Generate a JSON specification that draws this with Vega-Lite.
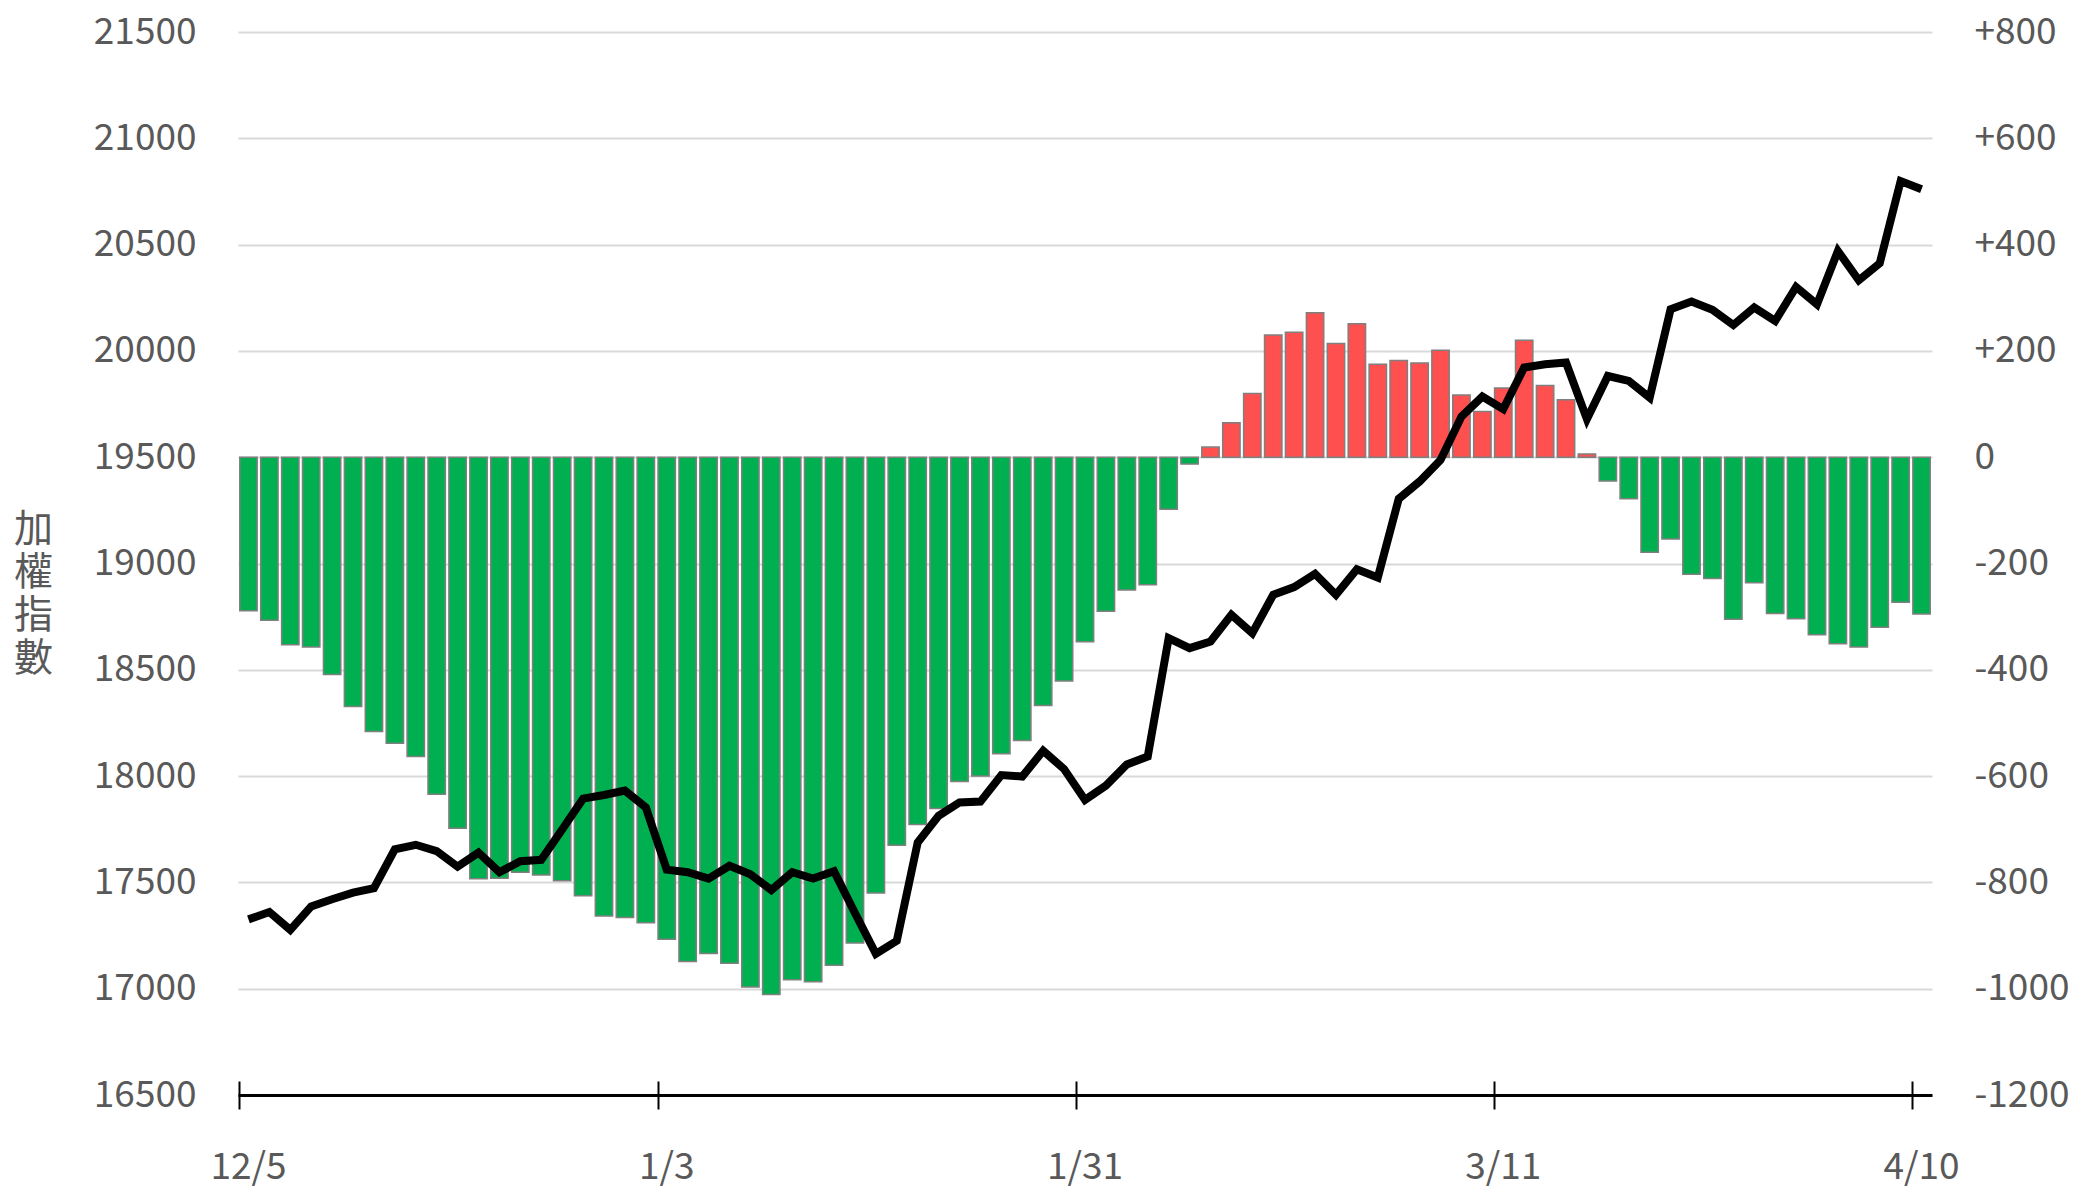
{
  "$schema": "https://vega.github.io/schema/vega-lite/v6.json",
  "width": 1694,
  "height": 1063,
  "autosize": {"type": "none"},
  "padding": {"left": 238, "top": 32, "right": 142, "bottom": 93},
  "config": {
    "view": {"stroke": null},
    "font": "Noto Sans CJK TC",
    "axis": {"labelFont": "Noto Sans CJK TC", "titleFont": "Noto Sans CJK TC", "labelColor": "#595959", "titleColor": "#595959", "labelFontSize": 37}
  },
  "data": {
    "values": [
      {"d": "12/5", "v": -289, "t": 17326}, {"d": "12/6", "v": -307, "t": 17361}, {"d": "12/7", "v": -353, "t": 17277},
      {"d": "12/8", "v": -357, "t": 17387}, {"d": "12/11", "v": -409, "t": 17421}, {"d": "12/12", "v": -469, "t": 17452},
      {"d": "12/13", "v": -516, "t": 17473}, {"d": "12/14", "v": -538, "t": 17656}, {"d": "12/15", "v": -563, "t": 17677},
      {"d": "12/18", "v": -634, "t": 17647}, {"d": "12/19", "v": -698, "t": 17574}, {"d": "12/20", "v": -793, "t": 17640},
      {"d": "12/21", "v": -792, "t": 17548}, {"d": "12/22", "v": -781, "t": 17600}, {"d": "12/25", "v": -786, "t": 17606},
      {"d": "12/26", "v": -797, "t": 17749}, {"d": "12/27", "v": -825, "t": 17894}, {"d": "12/28", "v": -863, "t": 17911},
      {"d": "12/29", "v": -866, "t": 17932}, {"d": "1/2", "v": -876, "t": 17853}, {"d": "1/3", "v": -907, "t": 17560},
      {"d": "1/4", "v": -949, "t": 17548}, {"d": "1/5", "v": -934, "t": 17518}, {"d": "1/8", "v": -952, "t": 17578},
      {"d": "1/9", "v": -997, "t": 17538}, {"d": "1/10", "v": -1011, "t": 17464}, {"d": "1/11", "v": -983, "t": 17548},
      {"d": "1/12", "v": -987, "t": 17518}, {"d": "1/15", "v": -956, "t": 17553}, {"d": "1/16", "v": -914, "t": 17356},
      {"d": "1/17", "v": -820, "t": 17164}, {"d": "1/18", "v": -730, "t": 17225}, {"d": "1/19", "v": -691, "t": 17688},
      {"d": "1/22", "v": -661, "t": 17813}, {"d": "1/23", "v": -610, "t": 17876}, {"d": "1/24", "v": -600, "t": 17880},
      {"d": "1/25", "v": -558, "t": 18005}, {"d": "1/26", "v": -533, "t": 17998}, {"d": "1/29", "v": -467, "t": 18119},
      {"d": "1/30", "v": -421, "t": 18033}, {"d": "1/31", "v": -347, "t": 17888}, {"d": "2/1", "v": -290, "t": 17955},
      {"d": "2/2", "v": -250, "t": 18055}, {"d": "2/5", "v": -240, "t": 18092}, {"d": "2/15", "v": -98, "t": 18649},
      {"d": "2/16", "v": -13, "t": 18602}, {"d": "2/19", "v": 19, "t": 18633}, {"d": "2/20", "v": 65, "t": 18759},
      {"d": "2/21", "v": 120, "t": 18672}, {"d": "2/22", "v": 230, "t": 18853}, {"d": "2/23", "v": 235, "t": 18889},
      {"d": "2/26", "v": 272, "t": 18951}, {"d": "2/27", "v": 214, "t": 18853}, {"d": "2/29", "v": 251, "t": 18973},
      {"d": "3/1", "v": 175, "t": 18934}, {"d": "3/4", "v": 182, "t": 19304}, {"d": "3/5", "v": 177, "t": 19386},
      {"d": "3/6", "v": 201, "t": 19487}, {"d": "3/7", "v": 117, "t": 19691}, {"d": "3/8", "v": 86, "t": 19785},
      {"d": "3/11", "v": 130, "t": 19726}, {"d": "3/12", "v": 220, "t": 19922}, {"d": "3/13", "v": 135, "t": 19937},
      {"d": "3/14", "v": 108, "t": 19945}, {"d": "3/15", "v": 6, "t": 19679}, {"d": "3/18", "v": -45, "t": 19882},
      {"d": "3/19", "v": -78, "t": 19859}, {"d": "3/20", "v": -179, "t": 19780}, {"d": "3/21", "v": -154, "t": 20196},
      {"d": "3/22", "v": -220, "t": 20232}, {"d": "3/25", "v": -228, "t": 20193}, {"d": "3/26", "v": -305, "t": 20122},
      {"d": "3/27", "v": -236, "t": 20204}, {"d": "3/28", "v": -294, "t": 20141}, {"d": "3/29", "v": -304, "t": 20301},
      {"d": "4/1", "v": -334, "t": 20219}, {"d": "4/2", "v": -351, "t": 20470}, {"d": "4/3", "v": -357, "t": 20332},
      {"d": "4/8", "v": -320, "t": 20412}, {"d": "4/9", "v": -273, "t": 20799}, {"d": "4/10", "v": -295, "t": 20760}
    ]
  },
  "layer": [
    {
      "mark": {"type": "bar", "stroke": "#7F7F7F", "strokeWidth": 1.5},
      "encoding": {
        "x": {
          "field": "d", "type": "ordinal", "sort": null,
          "scale": {"paddingInner": 0.17, "paddingOuter": 0.085},
          "axis": {
            "orient": "bottom",
            "values": ["12/5", "1/3", "1/31", "3/11", "4/10"],
            "ticks": false, "tickSize": 0, "grid": false,
            "domain": true, "domainColor": "#000000", "domainWidth": 3,
            "labelAngle": 0, "labelPadding": 72, "labelBaseline": "middle",
            "labelFontSize": 37, "title": null
          }
        },
        "y": {
          "field": "v", "type": "quantitative",
          "scale": {"domain": [-1200, 800], "nice": false},
          "axis": {
            "orient": "right",
            "values": [-1200, -1000, -800, -600, -400, -200, 0, 200, 400, 600, 800],
            "grid": false, "ticks": false, "domain": false,
            "labelPadding": 42,
            "labelExpr": "datum.value > 0 ? '+' + datum.value : '' + datum.value",
            "title": null
          }
        },
        "color": {"condition": {"test": "datum.v >= 0", "value": "#FF5050"}, "value": "#00B050"}
      }
    },
    {
      "mark": {"type": "line", "color": "#000000", "strokeWidth": 8},
      "encoding": {
        "x": {
          "field": "d", "type": "ordinal", "sort": null,
          "axis": {
            "orient": "bottom",
            "values": ["12/5", "1/3", "1/31", "3/11", "4/10"],
            "labels": false, "ticks": true, "tickSize": 28, "tickColor": "#000000", "tickWidth": 2,
            "offset": -14, "domain": false, "bandPosition": 0, "grid": false, "title": null
          }
        },
        "y": {
          "field": "t", "type": "quantitative",
          "scale": {"domain": [16500, 21500], "nice": false, "zero": false},
          "axis": {
            "orient": "left",
            "values": [16500, 17000, 17500, 18000, 18500, 19000, 19500, 20000, 20500, 21000, 21500],
            "format": "d",
            "grid": true, "gridColor": "#D9D9D9", "gridWidth": 2,
            "ticks": false, "domain": false, "labelPadding": 42,
            "title": ["加", "權", "指", "數"],
            "titleAngle": 0, "titleFontSize": 39, "titleFontWeight": "normal",
            "titleLineHeight": 43, "titleX": -205, "titleY": 497,
            "titleAlign": "center", "titleBaseline": "middle"
          }
        }
      }
    }
  ],
  "resolve": {"scale": {"y": "independent"}, "axis": {"x": "independent"}}
}
